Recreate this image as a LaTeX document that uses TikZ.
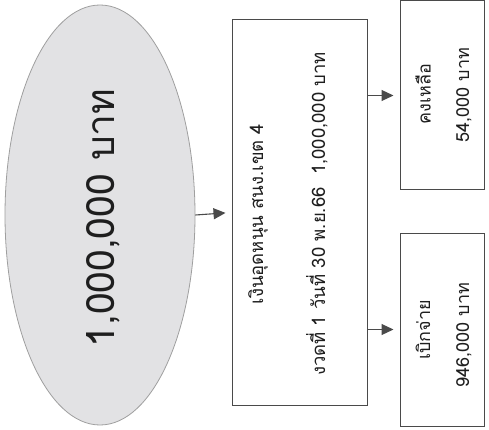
\documentclass[tikz,border=0pt]{standalone}
\usepackage{fontspec}
\newfontfamily\thaifont[Script=Thai]{Loma}
\usetikzlibrary{arrows.meta,shapes.geometric}
\definecolor{lineg}{HTML}{4A4A4A}
\definecolor{ellfill}{HTML}{E2E2E4}
\definecolor{txt}{HTML}{1E1E1E}
\tikzset{
  box/.style={draw=lineg, line width=1pt, fill=white, inner sep=0pt},
  vtext/.style={rotate=90, inner sep=0pt, text=txt},
  arr/.style={draw=lineg, line width=1.1pt, shorten >=6pt, -{Triangle[length=12pt,width=11pt]}},
}
\begin{document}
\begin{tikzpicture}[x=1pt,y=-1pt, font=\thaifont]
\useasboundingbox (0,0) rectangle (489,430);
\node[ellipse, draw=gray!75, line width=0.8pt, fill=ellfill, minimum width=190pt, minimum height=420pt, inner sep=0pt] (src) at (100,215) {};
\node[vtext, font=\thaifont\fontsize{39}{46}\selectfont] (srct) at (103,218) {1,000,000 บาท};
\node[box, minimum width=135pt, minimum height=385pt] (main) at (299.5,212.5) {};
\node[vtext, font=\thaifont\fontsize{18.5}{22}\selectfont] (m1) at (258,214) {เงินอุดหนุน สนง.เขต 4};
\node[vtext, font=\thaifont\fontsize{18.5}{22}\selectfont] (m2) at (317,214) {งวดที่ 1 วันที่ 30 พ.ย.66\ \ 1,000,000 บาท};
\node[box, minimum width=84pt, minimum height=189pt] (bal) at (442,95.5) {};
\node[vtext, font=\thaifont\fontsize{18}{22}\selectfont] (b1) at (423,94) {คงเหลือ};
\node[vtext, font=\thaifont\fontsize{18}{22}\selectfont] (b2) at (464,95) {54,000 บาท};
\node[box, minimum width=84pt, minimum height=193pt] (pay) at (442,329.5) {};
\node[vtext, font=\thaifont\fontsize{18}{22}\selectfont] (p1) at (423,330) {เบิกจ่าย};
\node[vtext, font=\thaifont\fontsize{18}{22}\selectfont] (p2) at (464,335) {946,000 บาท};
\draw[arr] (src.east) -- (main.west);
\draw[arr] (main.east |- bal.west) -- (bal.west);
\draw[arr] (main.east |- pay.west) -- (pay.west);
\end{tikzpicture}
\end{document}
